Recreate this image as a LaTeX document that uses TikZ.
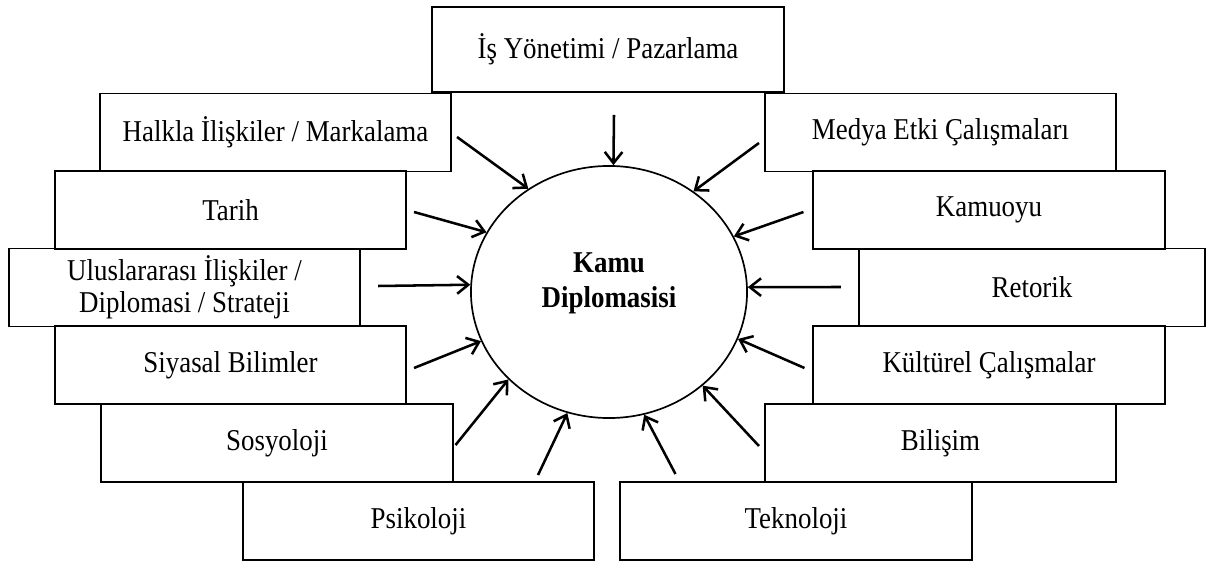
\documentclass[tikz,border=0pt]{standalone}
\usepackage{fontspec}
\setmainfont{Liberation Serif}[FakeStretch=0.89]
\usetikzlibrary{shapes.geometric,arrows.meta}
\tikzset{
  field/.style={draw, line width=1.4pt, minimum width=8.775cm, minimum height=1.95cm,
    inner sep=0pt, align=center, font=\fontsize{21.5}{22.5}\selectfont},
  hub/.style={draw, ellipse, line width=1.2pt, minimum width=6.9cm, minimum height=6.3cm,
    inner sep=0pt, align=center, text depth=17pt, font=\fontsize{21.5}{25}\selectfont\bfseries},
  feed/.style={line width=1.8pt, -{Straight Barb[length=2.8mm,width=4.4mm]}}
}

\begin{document}
\begin{tikzpicture}[x=0.025cm, y=-0.025cm]
\useasboundingbox (0,0) rectangle (1208,563);

\node[hub] (kamu) at (609,292) {Kamu\\Diplomasisi};

\node[field, minimum width=8.8cm, minimum height=2.125cm] (is) at (608,49.5)
{İş Yönetimi / Pazarlama};

% left side
\node[field] (halkla) at (275.5,132.5) {Halkla İlişkiler / Markalama};
\node[field] (tarih) at (230.5,210) {Tarih};
\node[field] (ulus) at (184.5,287.5) {Uluslararası İlişkiler /\\Diplomasi / Strateji};
\node[field] (siyasal) at (230.5,365) {Siyasal Bilimler};
\node[field] (sosyoloji) at (277,443) {Sosyoloji};
\node[field] (psikoloji) at (418.5,521) {Psikoloji};

% right side
\node[field] (medya) at (940.5,132.5) {Medya Etki Çalışmaları};
\node[field] (kamuoyu) at (989,210) {Kamuoyu};
\node[field, minimum width=8.65cm] (retorik) at (1032,287.5) {Retorik};
\node[field] (kulturel) at (989,365) {Kültürel Çalışmalar};
\node[field] (bilisim) at (940.5,443) {Bilişim};
\node[field] (teknoloji) at (796,521) {Teknoloji};

\draw[feed] ([shift={(6,22)}]is.south) -- (kamu.88);

\draw[feed] ([shift={(5,4.5)}]halkla.east) -- (kamu.128);
\draw[feed] ([shift={(7,2)}]tarih.east) -- (kamu.154);
\draw[feed] ([shift={(17,-1.5)}]ulus.east) -- (kamu.177.5);
\draw[feed] ([shift={(7,3)}]siyasal.east) -- (kamu.201);
\draw[feed] ([shift={(2,2)}]sosyoloji.east) -- (kamu.221);
\draw[feed] ([shift={(-57,-6)}]psikoloji.north east) -- (kamu.251);

\draw[feed] ([shift={(-5,10.5)}]medya.west) -- (kamu.50);
\draw[feed] ([shift={(-9,2)}]kamuoyu.west) -- (kamu.24.7);
\draw[feed] ([shift={(-17,-0.5)}]retorik.west) -- (kamu.2);
\draw[feed] ([shift={(-8,3)}]kulturel.west) -- (kamu.340);
\draw[feed] ([shift={(-5,3)}]bilisim.west) -- (kamu.315);
\draw[feed] ([shift={(56,-7)}]teknoloji.north west) -- (kamu.286);
\end{tikzpicture}
\end{document}
